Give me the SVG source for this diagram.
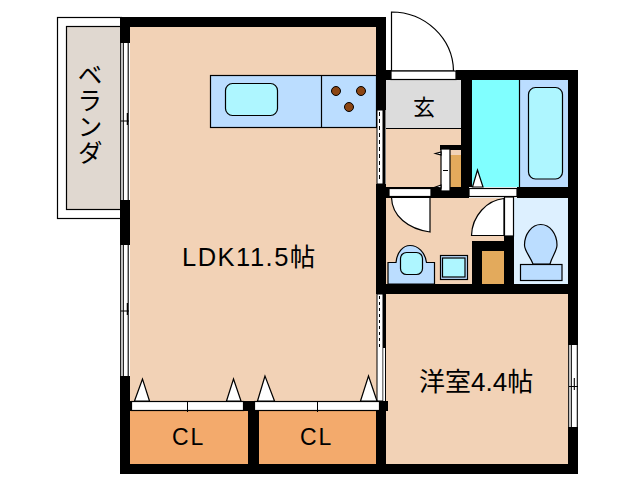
<svg xmlns="http://www.w3.org/2000/svg" width="638" height="480" viewBox="0 0 638 480">
<style>
.w{fill:#000}
.o{stroke:#000;stroke-width:1.2}
.f{fill:#fff;stroke:#000;stroke-width:1.2}
.l{fill:#bbddff;stroke:#000;stroke-width:1.2}
.c{fill:#aef6ff;stroke:#000;stroke-width:1.2}
.t{font-family:"Liberation Sans","Noto Sans CJK JP",sans-serif;fill:#000}
</style>
<rect width="638" height="480" fill="#fff"/>
<g id="veranda">
<rect x="57.5" y="17.5" width="64" height="201" class="f"/>
<rect x="66.500" y="26.500" width="55" height="183" fill="#e0d8d0" stroke="#000" stroke-width="1.200"/>
<text class="t" font-size="25" letter-spacing="1" x="88" y="62" writing-mode="vertical-rl">ベランダ</text>
</g>
<g id="ldk">
<rect x="125" y="22" width="256" height="385" fill="#f2d2b6"/>
<text class="t" font-size="25.500" letter-spacing="1.500" x="182" y="265.500">LDK11.5帖</text>
</g>
<g id="kitchen">
<rect x="210.500" y="75.500" width="166" height="52" class="l"/>
<line x1="321.500" y1="75" x2="321.500" y2="128" class="o"/>
<rect x="225.500" y="83.500" width="52" height="32" rx="7" class="c"/>
<g fill="#8b4513" stroke="#000" stroke-width="1"><circle cx="336" cy="91" r="4.500"/><circle cx="361" cy="91" r="4.500"/><circle cx="349" cy="107" r="4.500"/></g>
</g>
<g id="entrance">
<rect x="386" y="80" width="75" height="48.500" fill="#dcdcdc"/>
<line x1="386" y1="128.500" x2="461" y2="128.500" class="o"/>
<rect x="386" y="129" width="75" height="60" fill="#f2d2b6"/>
<text class="t" font-size="22" x="424" y="115" text-anchor="middle">玄</text>
<path d="M391.500 71V12C425 12 453 38 453.500 71Z" class="f"/>
<rect x="391" y="71" width="65" height="8.500" class="f" stroke="none"/>
</g>
<g id="bath">
<rect x="472" y="80" width="47.500" height="107" fill="#80ffff"/>
<rect x="519.500" y="80" width="48.500" height="107" fill="#bbddff"/>
<line x1="519.500" y1="80" x2="519.500" y2="187" class="o"/>
<rect x="528.500" y="87.500" width="34" height="91.500" rx="7" class="c"/>
<path d="M477.500 170L472.500 187H483Z" class="f"/>
</g>
<g id="hall">
<rect x="386" y="198" width="118" height="86" fill="#f2d2b6"/>
<path d="M391.500 197.500H430V232C408 229 392 216 391.500 197.500Z" class="f"/>
<path d="M471.500 235.500C472 216 487 200 504 198.500V235.500Z" class="f"/>
<path d="M388 262.500H396C397 252 403 245.500 410 245.500C418 245.500 425 252 426.500 262.500H434.500V284H388Z" class="l"/>
<rect x="400.500" y="252.500" width="22" height="22" rx="6" class="c"/>
<rect x="440.500" y="255.500" width="27" height="24" class="l"/>
<rect x="442.500" y="258" width="22.500" height="19" class="c"/>
</g>
<g id="toilet">
<rect x="514" y="198" width="54" height="86" fill="#ddf0ff"/>
<path d="M533 264C530 256 524.500 251 524.500 245C524.500 234 532 224.500 540.700 224.500C550 224.500 557 234 557 245C557 251 552 256 550 264Z" class="l"/>
<rect x="520.500" y="264.500" width="41.500" height="16" class="l"/>
</g>
<g id="storage">
<rect x="482" y="251" width="22" height="33" fill="#e3aa5c"/>
<rect x="450" y="155" width="11" height="32" fill="#e3aa5c"/>
</g>
<g id="room">
<rect x="386" y="294" width="182" height="170" fill="#f2d2b6"/>
<text class="t" font-size="26" x="419" y="391">洋室4.4帖</text>
</g>
<g id="closet1">
<rect x="130" y="411" width="118" height="53" fill="#f3aa6c"/>
<text class="t" font-size="23" letter-spacing="2" x="172" y="445">CL</text>
</g>
<g id="closet2">
<rect x="259" y="411" width="117" height="53" fill="#f3aa6c"/>
<text class="t" font-size="23" letter-spacing="2" x="300" y="445">CL</text>
</g>
<g id="walls">
<rect x="120" y="17" width="266" height="10" class="w"/>
<rect x="120" y="17" width="10" height="26" class="w"/>
<rect x="120" y="200" width="10" height="45" class="w"/>
<rect x="120" y="376" width="10" height="98" class="w"/>
<rect x="120" y="464" width="458" height="10" class="w"/>
<rect x="376" y="17" width="10" height="93" class="w"/>
<rect x="386" y="70" width="5" height="10" class="w"/>
<rect x="456" y="70" width="122" height="10" class="w"/>
<rect x="461" y="70" width="11" height="117" class="w"/>
<rect x="568" y="70" width="10" height="275" class="w"/>
<rect x="568" y="427" width="10" height="47" class="w"/>
<rect x="376" y="184" width="10" height="110" class="w"/>
<rect x="376" y="187" width="93" height="11" class="w"/>
<rect x="440" y="145" width="21" height="5" class="w"/>
<rect x="517" y="187" width="61" height="11" class="w"/>
<rect x="504" y="236" width="10" height="48" class="w"/>
<rect x="472" y="241" width="42" height="10" class="w"/>
<rect x="472" y="241" width="10" height="43" class="w"/>
<rect x="376" y="284" width="202" height="10" class="w"/>
<rect x="376" y="411" width="10" height="63" class="w"/>
<rect x="248" y="411" width="11" height="53" class="w"/>
<rect x="243" y="401" width="12" height="10" class="w"/>
<rect x="379" y="401" width="9" height="10" class="w"/>
<rect x="120" y="401" width="12" height="10" class="w"/>
<rect x="383" y="294" width="3" height="54" class="w"/>
<rect x="383" y="110" width="2.500" height="74" class="w"/>
</g>
<g id="connectors">
<g id="windows">
<rect x="120" y="43" width="10" height="157" fill="#fff"/>
<path d="M120.700 43V200M123.300 43V200M128.200 43V200M121 121H129M127.300 113V125M123.300 121V130" fill="none" stroke="#000" stroke-width="1.100"/>
<rect x="120" y="245" width="10" height="131" fill="#fff"/>
<path d="M120.700 245V376M123.300 245V376M128.200 245V376M121 311H129M127.300 303V315M123.300 311V320" fill="none" stroke="#000" stroke-width="1.100"/>
<rect x="568" y="345" width="10" height="82" fill="#fff"/>
<path d="M568.700 345V427M571.300 345V427M577.300 345V427M569 386.500H578M574.300 378V390M571.300 386.500V391" fill="none" stroke="#000" stroke-width="1.100"/>
<rect x="377" y="110" width="6" height="74" fill="#fff" stroke="#000"/>
<line x1="379.500" y1="112" x2="379.500" y2="182" stroke="#000" stroke-width="1" stroke-dasharray="4 3"/>
<rect x="377" y="294" width="6" height="107" fill="#fff" stroke="#000"/>
<line x1="379.500" y1="296" x2="379.500" y2="348" stroke="#000" stroke-width="1" stroke-dasharray="3 3"/>
<rect x="383.500" y="348" width="2.500" height="53" fill="#fff"/>
<line x1="385.500" y1="348" x2="385.500" y2="401" stroke="#000"/>
</g>
<g id="doors">
<rect x="389" y="188.500" width="42" height="8" class="f"/>
<rect x="469" y="188.500" width="48" height="8" class="f"/>
<rect x="504.500" y="197" width="9" height="39" class="f"/>
<rect x="441" y="149" width="9" height="42" class="f"/>
<line x1="443" y1="170.500" x2="448" y2="170.500" stroke="#000"/>
<path d="M441 152L435.500 153.500L441 155ZM441 185L435.500 187L441 188Z" class="f"/>
<rect x="131.500" y="401.500" width="112" height="9" class="f"/>
<rect x="254.500" y="401.500" width="125" height="9" class="f"/>
<line x1="187.500" y1="401" x2="187.500" y2="412" stroke="#000"/>
<line x1="317.500" y1="401" x2="317.500" y2="412" stroke="#000"/>
<path d="M142.500 379L134.500 401H149.500ZM233.500 379L226.500 401H241ZM265 376L257.500 401H274.500ZM368.500 376L360.500 401H377Z" class="f"/>
</g>
</g>
</svg>
